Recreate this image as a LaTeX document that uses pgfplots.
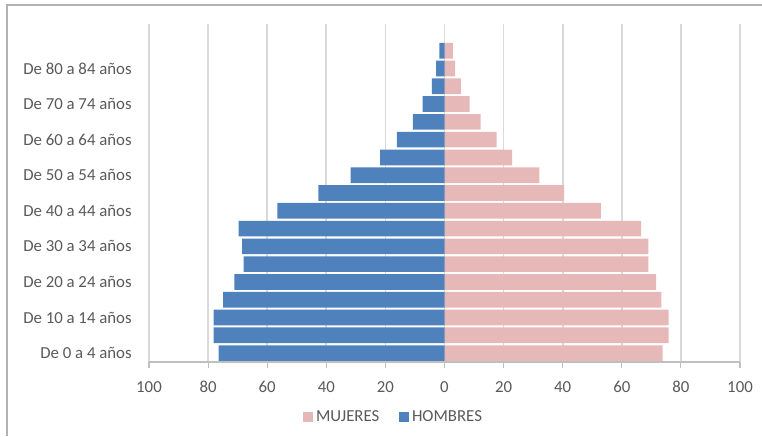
\documentclass[border=0pt]{standalone}
\usepackage{pgfplots}
\pgfplotsset{compat=1.18}
\usepackage{pgfplotstable}
\usepackage{fontspec}
\setmainfont{Carlito}
\definecolor{hombres}{HTML}{4F81BD}
\definecolor{mujeres}{HTML}{E6B9B8}
\definecolor{txt}{HTML}{595959}
\definecolor{gridc}{HTML}{D9D9D9}
\definecolor{axc}{HTML}{BFBFBF}
\pgfplotstableread{
cat hombres mujeres
0  -76.4 73.8
1  -78.1 75.8
2  -78.1 75.8
3  -74.9 73.4
4  -71.1 71.6
5  -68.0 69.0
6  -68.5 69.0
7  -69.7 66.5
8  -56.6 52.9
9  -42.7 40.5
10 -31.8 32.1
11 -21.8 22.9
12 -16.1 17.6
13 -10.7 12.2
14 -7.4  8.5
15 -4.3  5.5
16 -2.8  3.6
17 -1.7  2.8
}\datatable
\begin{document}
\begin{tikzpicture}
\path[use as bounding box] (0pt,0pt) rectangle (571.5pt,327pt);
\draw[gray!60, line width=1.2pt] (5.25pt,0pt) -- (5.25pt,323.25pt) -- (571.5pt,323.25pt);
\begin{axis}[
  at={(111.75pt,55.5pt)}, anchor=south west,
  scale only axis,
  width=443.25pt, height=253.5pt,
  xbar, bar width=0.88, bar shift=0pt,
  xmin=-100, xmax=100, ymin=-0.5, ymax=18.5,
  xtick={-100,-80,...,100},
  xticklabels={100,80,60,40,20,0,20,40,60,80,100},
  ytick={0,2,...,16},
  yticklabels={De 0 a 4 años,De 10 a 14 años,De 20 a 24 años,De 30 a 34 años,De 40 a 44 años,De 50 a 54 años,De 60 a 64 años,De 70 a 74 años,De 80 a 84 años},
  axis x line*=bottom, axis y line*=left,
  x axis line style={axc, line width=1pt, -},
  y axis line style={draw=none},
  xtick style={axc, line width=0.8pt},
  ytick style={draw=none},
  tick align=outside, major tick length=4.5pt,
  xmajorgrids, grid style={gridc, line width=1.3pt},
  ymajorgrids=false,
  ticklabel style={font=\fontsize{12.6}{14}\selectfont, text=txt},
  xticklabel style={yshift=-6.5pt},
  yticklabel style={anchor=east, xshift=-5pt},
  /pgf/number format/assume math mode=true,
  legend style={at={(axis description cs:0.4146,-0.163)}, anchor=center, draw=none, fill=none,
    legend columns=2, font=\fontsize{12.6}{14}\selectfont, text=txt,
    /tikz/every even column/.append style={column sep=13pt},
    legend cell align=left, inner sep=0pt},
  legend image code/.code={\fill[#1] (0pt,-3.75pt) rectangle (7.5pt,3.75pt);},
  clip=false,
]
\addplot[fill=mujeres, draw=none] table[x=mujeres, y=cat] {\datatable};
\addlegendentry{MUJERES}
\addplot[fill=hombres, draw=none] table[x=hombres, y=cat] {\datatable};
\addlegendentry{HOMBRES}
\end{axis}
\end{tikzpicture}
\end{document}
